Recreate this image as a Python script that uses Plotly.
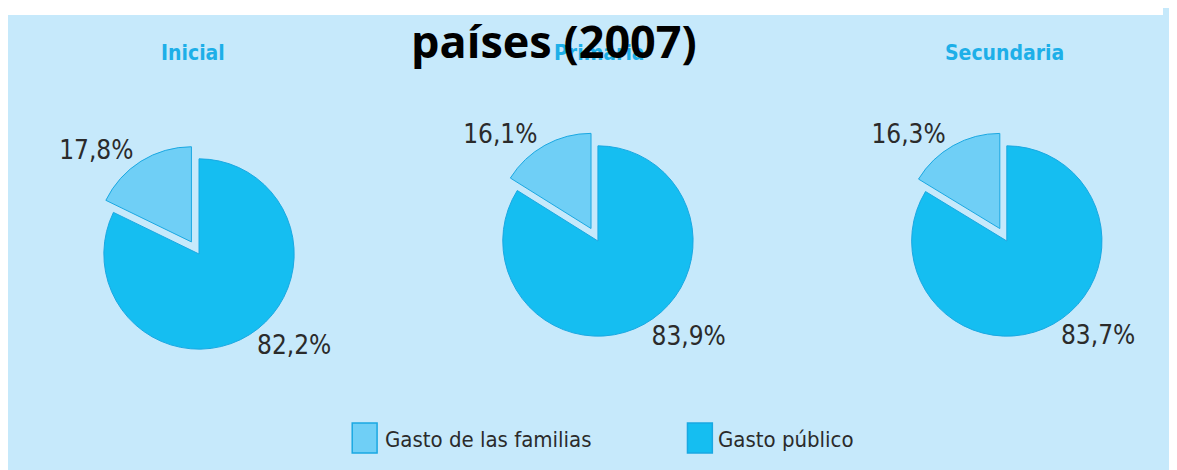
import plotly.graph_objects as go

# figure sits in the page at an 8px body offset
W, H = 1161, 462
OX, OY = 8, 8

title_text = "países (2007)"
levels = ["Inicial", "Primaria", "Secundaria"]
categories = ["Gasto de las familias", "Gasto público"]
familias = [17.8, 16.1, 16.3]
publico = [82.2, 83.9, 83.7]

slice_colors = ["#6FCFF6", "#15BEF1"]
edge_color = "#1AA8E2"
bg_color = "#C6E9FB"
sub_color = "#1DAFE8"
txt_color = "#2B2B2B"
narrow = "DejaVu Sans Condensed, Liberation Sans Narrow, sans-serif"


def px(x):
    return (x - OX) / W


def py(y):
    return 1 - (y - OY) / H


# page-pixel centres of the pies and box size
centers = [(200, 254), (601, 241), (1012, 241)]
box = 220
pull_amt = 0.15

fig = go.Figure()
for i, lvl in enumerate(levels):
    cx, cy = centers[i]
    # público first going clockwise from 12 o'clock, so familias ends up top-left
    fig.add_trace(go.Pie(
        labels=[categories[1], categories[0]],
        values=[publico[i], familias[i]],
        sort=False,
        direction="clockwise",
        rotation=0,
        pull=[0, pull_amt],
        marker=dict(colors=[slice_colors[1], slice_colors[0]],
                    line=dict(color=edge_color, width=1)),
        texttemplate="%{value:.1f}%",
        textposition="outside",
        outsidetextfont=dict(family=narrow, size=26, color=txt_color),
        hoverinfo="label+value",
        showlegend=False,
        domain=dict(x=[px(cx - box / 2), px(cx + box / 2)],
                    y=[py(cy + box / 2), py(cy - box / 2)]),
        name=lvl,
    ))

shapes = [
    dict(type="rect", xref="paper", yref="paper", x0=0, x1=1, y0=py(15), y1=1,
         fillcolor="white", line=dict(width=0), layer="below"),
]

annotations = []
sub_x = [194, 603, 1010]
for i, lvl in enumerate(levels):
    annotations.append(dict(
        text=f"<b>{lvl}</b>", x=px(sub_x[i]), y=py(53), xref="paper", yref="paper",
        xanchor="center", yanchor="middle", showarrow=False,
        font=dict(family=narrow, size=21, color=sub_color)))

# legend (squares + labels)
leg_sq = [(354, 423), (691, 423)]
leg_txt_x = [385, 720]
for j, cat in enumerate(categories):
    x0, y0 = leg_sq[j]
    shapes.append(dict(type="rect", xref="paper", yref="paper",
                       x0=px(x0), x1=px(x0 + 25), y0=py(y0 + 30), y1=py(y0),
                       fillcolor=slice_colors[j], line=dict(color=edge_color, width=1.5)))
    annotations.append(dict(
        text=cat, x=px(leg_txt_x[j]), y=py(439), xref="paper", yref="paper",
        xanchor="left", yanchor="middle", showarrow=False,
        font=dict(family=narrow, size=22, color=txt_color)))

annotations.append(dict(
    text=f"<b>{title_text}</b>", x=px(557), y=py(41), xref="paper", yref="paper",
    xanchor="center", yanchor="middle", showarrow=False,
    font=dict(family="Open Sans, Lato, sans-serif", size=45, color="black")))

fig.update_layout(
    width=W, height=H,
    margin=dict(l=0, r=0, t=0, b=0),
    paper_bgcolor=bg_color,
    plot_bgcolor=bg_color,
    separators=",.",
    shapes=shapes,
    annotations=annotations,
    showlegend=False,
)

fig.write_html("out.html")
